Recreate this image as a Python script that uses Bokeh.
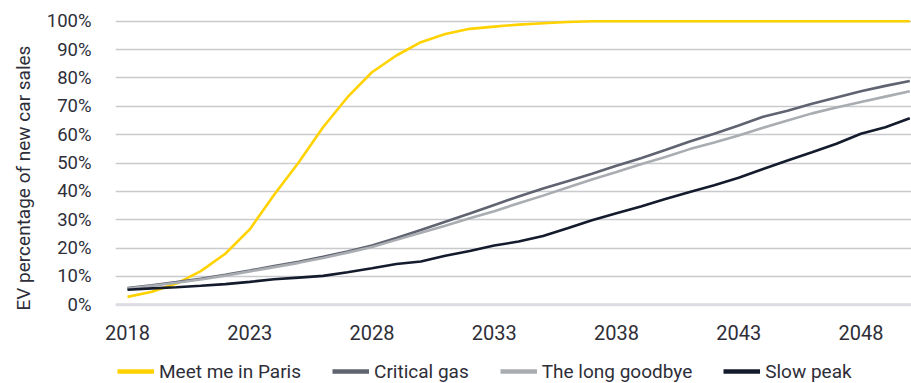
from bokeh.plotting import figure
from bokeh.layouts import column
from bokeh.models import (FixedTicker, PrintfTickFormatter, Legend, LegendItem,
                          Range1d, ColumnDataSource, Title, Span)
from bokeh.embed import file_html
from bokeh.resources import INLINE

years = list(range(2018, 2051))
paris = [2.8, 4.6, 7.5, 11.9, 18.0, 26.6, 38.8, 50.2, 62.6, 73.2, 82.0, 87.9, 92.6,
         95.5, 97.3, 98.1, 98.8, 99.3, 99.7, 100, 100, 100, 100, 100, 100, 100, 100,
         100, 100, 100, 100, 100, 100]
critical = [5.9, 6.9, 8.0, 9.2, 10.6, 12.1, 13.7, 15.2, 16.9, 18.8, 20.9, 23.6, 26.4,
            29.3, 32.2, 35.2, 38.2, 41.0, 43.6, 46.2, 49.0, 51.7, 54.6, 57.6, 60.3,
            63.2, 66.3, 68.4, 70.9, 73.1, 75.3, 77.2, 78.9]
goodbye = [5.7, 6.7, 7.8, 8.9, 10.3, 11.8, 13.3, 14.8, 16.5, 18.4, 20.4, 22.9, 25.4,
           27.9, 30.5, 33.0, 35.8, 38.5, 41.4, 44.2, 46.8, 49.6, 52.1, 54.9, 57.2,
           59.7, 62.4, 65.0, 67.5, 69.6, 71.5, 73.4, 75.3]
slow = [5.3, 5.8, 6.2, 6.7, 7.3, 8.1, 9.0, 9.6, 10.2, 11.5, 12.9, 14.4, 15.3, 17.3,
        19.0, 20.9, 22.3, 24.3, 27.0, 29.8, 32.3, 34.7, 37.3, 39.8, 42.2, 44.8, 47.9,
        50.9, 53.8, 56.8, 60.3, 62.6, 65.8]

series_names = ["Meet me in Paris", "Critical gas", "The long goodbye", "Slow peak"]
x_ticks = [2018, 2023, 2028, 2033, 2038, 2043, 2048]
y_ticks = [0, 10, 20, 30, 40, 50, 60, 70, 80, 90, 100]
y_title = "EV percentage  of new car sales"

colors = ["#FFD200", "#5F6470", "#A9ACB1", "#141B2D"]
FONT = "Roboto"
TXT = "#2E2E38"

# ---- main chart ----
p = figure(width=911, height=343, output_backend="svg", toolbar_location=None,
           x_range=Range1d(2017.51, 2050.07), y_range=Range1d(-2.0, 102.36),
           min_border_left=110, min_border_right=0, min_border_top=14,
           min_border_bottom=33)
p.outline_line_color = None
p.background_fill_color = "white"
p.border_fill_color = "white"

p.xgrid.grid_line_color = None
p.ygrid.grid_line_color = "#C9CACE"
p.ygrid.grid_line_width = 1.5
p.ygrid.ticker = FixedTicker(ticks=y_ticks)
p.add_layout(Span(location=0, dimension="width", line_color="#DCDDE2",
                  line_width=3))

p.yaxis.ticker = FixedTicker(ticks=y_ticks)
p.yaxis.formatter = PrintfTickFormatter(format="%d%%")
p.xaxis.ticker = FixedTicker(ticks=x_ticks)
for ax in (p.xaxis, p.yaxis):
    ax.axis_line_color = None
    ax.major_tick_line_color = None
    ax.minor_tick_line_color = None
    ax.major_label_text_font = FONT
    ax.major_label_text_color = TXT
p.yaxis.major_label_text_font_size = "18.5px"
p.yaxis.major_label_standoff = 18
p.xaxis.major_label_text_font_size = "20px"
p.xaxis.major_label_standoff = 8

p.add_layout(Title(text=y_title, align="left", offset=0, standoff=18,
                   text_font=FONT, text_font_size="19px",
                   text_font_style="normal", text_color=TXT), "left")

src = ColumnDataSource(dict(x=years, paris=paris, critical=critical,
                            goodbye=goodbye, slow=slow))
keys = ["paris", "critical", "goodbye", "slow"]
for k, c in zip(keys, colors):
    p.line("x", k, source=src, line_color=c, line_width=2.6)

# ---- legend strip ----
q = figure(width=911, height=40, output_backend="svg", toolbar_location=None,
           x_range=Range1d(0, 1), y_range=Range1d(0, 1),
           x_axis_location=None, y_axis_location=None,
           min_border_left=0, min_border_right=0, min_border_top=0,
           min_border_bottom=0)
q.outline_line_color = None
q.grid.visible = False
q.background_fill_color = "white"
q.border_fill_color = "white"

items = []
for name, c in zip(series_names, colors):
    r = q.line(x=[5, 6], y=[5, 5], line_color=c, line_width=4.5)
    items.append(LegendItem(label=name, renderers=[r]))

legend = Legend(items=items, orientation="horizontal", location=(2, 0),
                glyph_width=37, glyph_height=24, label_height=24,
                label_standoff=5, spacing=31,
                padding=0, margin=0, border_line_color=None,
                background_fill_alpha=0, label_text_font=FONT,
                label_text_font_size="19px", label_text_color=TXT)
q.add_layout(legend)

layout = column(p, q, spacing=0)
open("out.html", "w").write(file_html(layout, INLINE))
